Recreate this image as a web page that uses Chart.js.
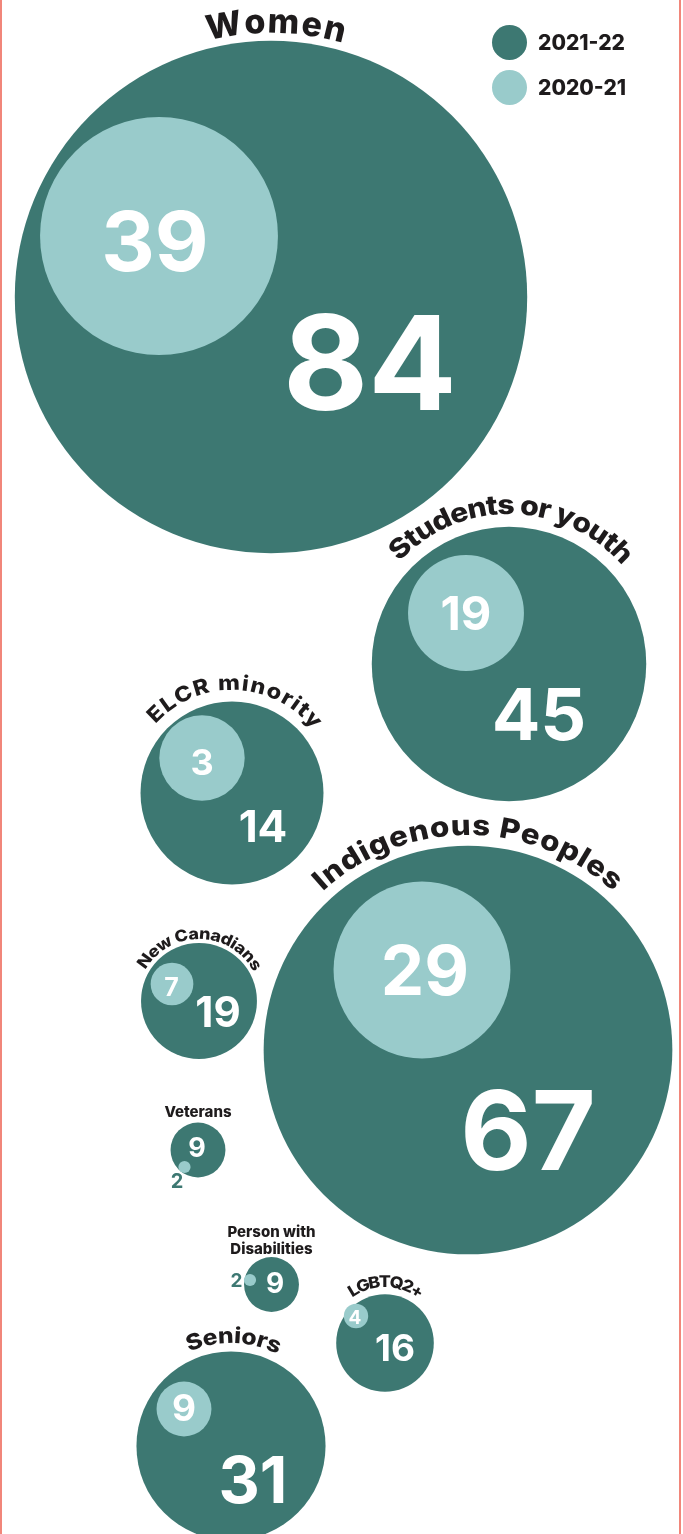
<!DOCTYPE html>
<html>
<head>
<meta charset="utf-8">
<script src="https://cdn.jsdelivr.net/npm/chart.js@4/dist/chart.umd.min.js"></script>
<style>
  html, body { margin: 0; padding: 0; background: #ffffff; }
  #wrap { position: relative; width: 683px; height: 1534px; overflow: hidden; }
  #frame { position: absolute; left: 0; top: 0; width: 681px; height: 1534px; box-sizing: border-box;
           border-left: 2px solid #F1867A; border-right: 2px solid #F1867A; pointer-events: none; }
  canvas { position: absolute; left: 0; top: 0; }
</style>
</head>
<body>
<div id="wrap">
  <canvas id="c" width="683" height="1534"></canvas>
  <div id="frame"></div>
</div>
<script>
// ---- data ----
const categories = ['Women', 'Students or youth', 'ELCR minority', 'Indigenous Peoples', 'New Canadians',
                    'Veterans', 'Person with Disabilities', 'LGBTQ2+', 'Seniors'];
const seriesLabels = ['2021-22', '2020-21'];
const values2122 = [84, 45, 14, 67, 19, 9, 9, 16, 31];
const values2021 = [39, 19, 3, 29, 7, 2, 2, 4, 9];
// bubble sizes as drawn in the picture (value units)
const bubbleSize2122 = [84, 45, 30, 67, 19, 9, 9, 16, 31];
const bubbleSize2021 = [39, 19, 14, 29, 7, 2, 2, 4, 9];

// ---- layout (bubble placement on the hidden x/y scales) ----
const posX2122 = [271, 509, 232, 468, 199, 198, 271.5, 385, 231];
const posY2122 = [297, 664, 793, 1050, 1001, 1150, 1284.5, 1343, 1446];
const posX2021 = [159, 466, 202, 422, 172, 184.5, 250, 356, 184];
const posY2021 = [236, 613, 758, 970, 984, 1167, 1280, 1316, 1409];

const lab2122X = [370, 539, 263, 528, 218, 197, 275, 395, 253];
const lab2122Y = [362, 714, 826, 1130, 1012, 1147, 1283, 1348, 1480];
const lab2122Size = [131, 72, 44, 110, 42, 27, 28, 37, 64];
const lab2021X = [155, 466, 202, 425, 171.5, 177, 236.5, 355, 184];
const lab2021Y = [241, 613, 762, 970, 987, 1181, 1280, 1317, 1408];
const lab2021Size = [83, 47, 36, 69, 25, 20, 19, 19, 37];
const lab2021Dark = [false, false, false, false, false, true, true, false, false];

// category titles: curved (radius, centre angle deg, span deg, font px, glyph stretch) or straight lines
const titleCurved = [true, true, true, true, true, false, false, true, true];
const titleRadius = [264, 150, 103, 215, 62, 0, 0, 56, 103];
const titleAngle = [1, 1, 2, 0, 1, 0, 0, 1, 1.5];
const titleSpan = [29.6, 96, 100, 85, 122, 0, 0, 74, 51];
const titleFont = [34, 27, 21, 28, 16, 15, 15, 16, 22];
const titleStretch = [1.0, 1.12, 1.12, 1.12, 1.12, 1, 1, 1.12, 1.12];
const titleLines = [null, null, null, null, null, ['Veterans'], ['Person with', 'Disabilities'], null, null];
const titleLineY = [null, null, null, null, null, [1112], [1232, 1249], null, null];

const DARK = '#3D7872';
const LIGHT = '#99CBCB';
const INK = '#1E1B1C';
const PX_PER_UNIT = 3.05;
const FONT = 'Inter, "Open Sans", sans-serif';

const labelsPlugin = {
  id: 'bubbleLabels',
  afterDatasetsDraw(chart) {
    const ctx = chart.ctx;
    const dark = chart.getDatasetMeta(0).data;
    ctx.save();
    ctx.textAlign = 'center';
    ctx.textBaseline = 'alphabetic';
    const sx = chart.scales.x, sy = chart.scales.y;
    categories.forEach((c, i) => {
      ctx.fillStyle = '#ffffff';
      ctx.font = '700 ' + lab2122Size[i] + 'px ' + FONT;
      ctx.fillText(String(values2122[i]), sx.getPixelForValue(lab2122X[i]), sy.getPixelForValue(lab2122Y[i]) + lab2122Size[i] * 0.364);
      ctx.fillStyle = lab2021Dark[i] ? DARK : '#ffffff';
      ctx.font = '700 ' + lab2021Size[i] + 'px ' + FONT;
      ctx.fillText(String(values2021[i]), sx.getPixelForValue(lab2021X[i]), sy.getPixelForValue(lab2021Y[i]) + lab2021Size[i] * 0.364);
    });
    ctx.fillStyle = INK;
    categories.forEach((c, i) => {
      const el = dark[i];
      ctx.font = '800 ' + titleFont[i] + 'px ' + FONT;
      if (titleCurved[i]) {
        const st = titleStretch[i];
        const chars = Array.from(c);
        const widths = chars.map(ch => ctx.measureText(ch).width * st);
        const total = widths.reduce((a, b) => a + b, 0);
        const R = titleRadius[i];
        const span = titleSpan[i] * Math.PI / 180;
        const arcLen = span * R;
        const extra = chars.length > 1 ? (arcLen - total) / (chars.length - 1) : 0;
        let pos = -arcLen / 2;
        const base = titleAngle[i] * Math.PI / 180;
        chars.forEach((ch, k) => {
          const a = base + (pos + widths[k] / 2) / R;
          ctx.save();
          ctx.translate(el.x, el.y);
          ctx.rotate(a);
          ctx.translate(0, -R);
          ctx.scale(st, 1);
          ctx.textAlign = 'center';
          ctx.fillText(ch, 0, 0);
          ctx.restore();
          pos += widths[k] + extra;
        });
      } else {
        ctx.textAlign = 'center';
        titleLines[i].forEach((line, k) => {
          ctx.fillText(line, el.x, sy.getPixelForValue(titleLineY[i][k]) + titleFont[i] * 0.364);
        });
      }
    });
    const legendX = 509.5, legendY = [42.5, 87.5];
    chart.data.datasets.forEach((ds, k) => {
      ctx.fillStyle = ds.backgroundColor;
      ctx.beginPath();
      ctx.arc(legendX, legendY[k], 17.5, 0, Math.PI * 2);
      ctx.fill();
      ctx.fillStyle = INK;
      ctx.font = '800 21px ' + FONT;
      ctx.textAlign = 'left';
      ctx.fillText(ds.label, 538, legendY[k] + 21 * 0.364);
    });
    ctx.restore();
  }
};

new Chart(document.getElementById('c'), {
  type: 'bubble',
  data: {
    datasets: [
      {
        label: seriesLabels[0],
        data: categories.map((c, i) => ({ x: posX2122[i], y: posY2122[i], r: bubbleSize2122[i] * PX_PER_UNIT })),
        backgroundColor: DARK, borderWidth: 0, order: 2, clip: false
      },
      {
        label: seriesLabels[1],
        data: categories.map((c, i) => ({ x: posX2021[i], y: posY2021[i], r: bubbleSize2021[i] * PX_PER_UNIT })),
        backgroundColor: LIGHT, borderWidth: 0, order: 1, clip: false
      }
    ]
  },
  options: {
    responsive: false,
    animation: false,
    events: [],
    layout: { padding: 0, autoPadding: false },
    scales: {
      x: { type: 'linear', min: 0, max: 683, display: false },
      y: { type: 'linear', min: 0, max: 1534, reverse: true, display: false }
    },
    plugins: { legend: { display: false }, tooltip: { enabled: false } }
  },
  plugins: [labelsPlugin]
});
</script>
</body>
</html>
